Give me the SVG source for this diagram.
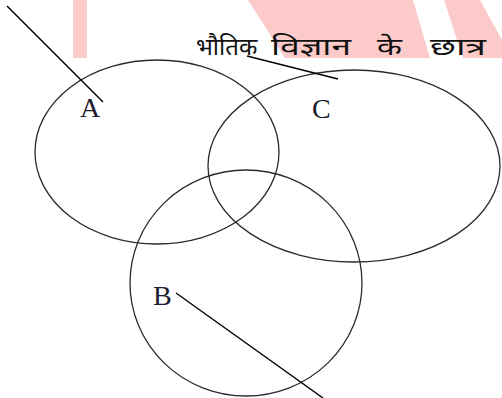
<svg xmlns="http://www.w3.org/2000/svg" width="502" height="398" viewBox="0 0 502 398">
  <style>
    .set { fill: none; stroke: #2b2b2b; stroke-width: 1.3; }
    .lbl { font-family: "Liberation Serif", "Times New Roman", serif; font-size: 28px; fill: #1c1c2c; }
    .cap { font-family: "Noto Sans Devanagari", "Noto Sans", "DejaVu Sans", sans-serif; font-size: 24px; fill: #111; }
    .lead { stroke: #000; stroke-width: 1.4; fill: none; }
    .wm { fill: #fdcaca; }
  </style>
  <rect width="502" height="398" fill="#ffffff"/>
  <g id="watermark">
    <rect class="wm" x="73" y="0" width="14" height="58"/>
    <polygon class="wm" points="248,0 413,0 430,58 285,58"/>
    <polygon class="wm" points="444,0 480,0 502,40 502,58 463,58"/>
  </g>
  <g id="set-A">
    <ellipse class="set" cx="157" cy="152" rx="122" ry="92"/>
    <text class="lbl" x="80" y="117">A</text>
  </g>
  <g id="set-C">
    <ellipse class="set" cx="354" cy="166" rx="146" ry="96"/>
    <text class="lbl" x="312" y="118">C</text>
  </g>
  <g id="set-B">
    <ellipse class="set" cx="246" cy="283" rx="116" ry="113"/>
    <text class="lbl" x="153" y="305">B</text>
  </g>
  <g id="caption">
    <text class="cap" x="196" y="55">भौतिक</text>
    <text class="cap" x="271" y="55" textLength="80" lengthAdjust="spacingAndGlyphs">विज्ञान</text>
    <text class="cap" x="377" y="55" textLength="25" lengthAdjust="spacingAndGlyphs">के</text>
    <text class="cap" x="430" y="55" textLength="56" lengthAdjust="spacingAndGlyphs">छात्र</text>
  </g>
  <g id="connectors">
    <line class="lead" x1="7" y1="6" x2="103" y2="102"/>
    <line class="lead" x1="247" y1="56" x2="338" y2="79"/>
    <line class="lead" x1="176" y1="293" x2="323" y2="398"/>
  </g>
</svg>
